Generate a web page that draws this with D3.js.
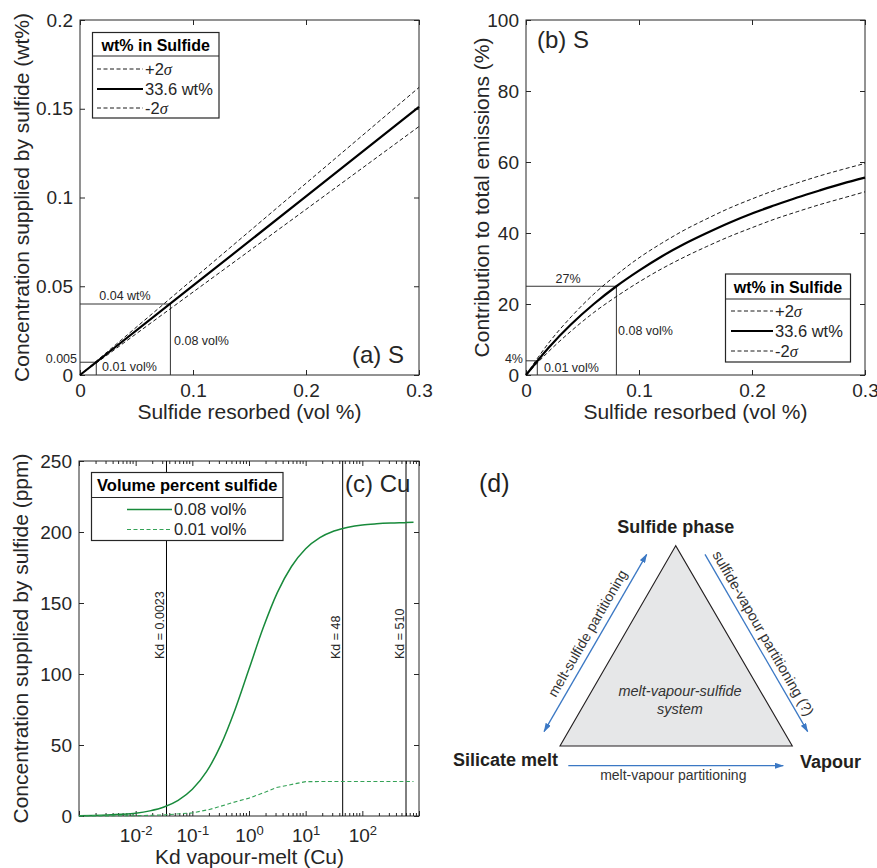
<!DOCTYPE html>
<html>
<head>
<meta charset="utf-8">
<script src="https://cdn.jsdelivr.net/npm/d3@7"></script>
<style>
  body { margin: 0; background: #fff; }
</style>
</head>
<body>
<svg id="fig" width="877" height="868"></svg>
<script>
// ---- data ----

// (a) S concentration supplied by sulfide (wt%) vs sulfide resorbed (vol %)
const volA = [0, 0.1, 0.2, 0.3];
const concMean = [0, 0.0503, 0.1006, 0.151];
const concPlus = [0, 0.054, 0.108, 0.162];
const concMinus = [0, 0.0467, 0.0933, 0.140];

// (b) S contribution to total emissions (%)
const volB = [0, 0.02, 0.04, 0.06, 0.08, 0.10, 0.12, 0.14, 0.16, 0.18, 0.20, 0.22, 0.24, 0.26, 0.28, 0.30];
const contribMean = [0, 7.7, 14.3, 20.0, 25.0, 29.4, 33.4, 36.9, 40.0, 42.9, 45.5, 47.8, 50.0, 52.0, 53.9, 55.6];
const contribPlus = [0, 9.0, 16.4, 22.8, 28.2, 33.0, 37.1, 40.8, 44.0, 47.0, 49.6, 52.0, 54.1, 56.1, 57.9, 59.6];
const contribMinus = [0, 6.6, 12.4, 17.6, 22.1, 26.2, 29.9, 33.2, 36.2, 39.0, 41.5, 43.9, 46.0, 48.0, 49.8, 51.6];

// (c) Cu supplied by sulfide (ppm) vs Kd vapour-melt
const kdSolid = [0.001, 0.00178, 0.00316, 0.00562, 0.01, 0.0178, 0.0316, 0.0562, 0.1, 0.178, 0.316, 0.562,
                 1, 1.78, 3.16, 5.62, 10, 17.8, 31.6, 56.2, 100, 178, 316, 562, 800];
const cu008 = [0.2, 0.4, 0.7, 1.2, 2.0, 3.6, 6.3, 11.0, 18.8, 31.2, 49.7, 74.5,
               103.5, 132.5, 157.3, 175.7, 188.2, 196.0, 200.7, 203.4, 205.0, 205.8, 206.3, 206.6, 206.8];
const kdDashed = [0.001, 0.01, 0.03, 0.1, 0.2, 0.3, 0.5, 1, 2, 3, 10, 30, 100, 800];
const cu001 = [0, 0.2, 0.7, 2.2, 4.6, 6.6, 9.3, 12.6, 17.0, 20.0, 24.2, 24.3, 24.3, 24.3];
const kdMarks = [0.035, 45, 590];
const kdMarkLabels = ["Kd = 0.0023", "Kd = 48", "Kd = 510"];

// reference guides drawn in (a) and (b)
const guideA = [[0.08, 0.04], [0.0144, 0.0072]];
const guideB = [[0.08, 25], [0.01, 4]];

const ticksA = [0, 0.1, 0.2, 0.3];
const ticksAy = [0, 0.05, 0.1, 0.15, 0.2];
const ticksBy = [0, 20, 40, 60, 80, 100];
const ticksCy = [0, 50, 100, 150, 200, 250];
const ticksCx = [1e-3, 1e-2, 1e-1, 1, 10, 100, 1000];

const FONT = '"Liberation Sans", Arial, Helvetica, sans-serif';
const INK = "#262626";
const GREEN = "#188a3b";
const GREEN_LIGHT = "#35a257";
const BLUE = "#3b78c4";

const svg = d3.select("#fig");

function frame(x, y, xTicks, yTicks, xFmt, yFmt, xPad) {
  const [x0, x1] = x.range(), [yb, yt] = y.range();
  const ax = (axis, tr) => svg.append("g").attr("transform", tr).call(axis)
    .call(s => s.select(".domain").remove())
    .attr("font-family", FONT).attr("font-size", 19).attr("color", INK);
  const b = ax(d3.axisBottom(x).tickValues(xTicks).tickFormat(xFmt).tickSizeInner(-5).tickSizeOuter(0).tickPadding(xPad || 9), `translate(0,${yb})`);
  ax(d3.axisTop(x).tickValues(xTicks).tickFormat("").tickSizeInner(-5).tickSizeOuter(0), `translate(0,${yt})`);
  ax(d3.axisLeft(y).tickValues(yTicks).tickFormat(yFmt).tickSizeInner(-5).tickSizeOuter(0).tickPadding(7), `translate(${x0},0)`);
  ax(d3.axisRight(y).tickValues(yTicks).tickFormat("").tickSizeInner(-5).tickSizeOuter(0), `translate(${x1},0)`);
  svg.append("rect").attr("x", x0).attr("y", yt).attr("width", x1 - x0).attr("height", yb - yt)
    .attr("fill", "none").attr("stroke", INK).attr("stroke-width", 1);
  return b;
}

function txt(x, y, s, size, opts = {}) {
  const t = svg.append("text").attr("x", x).attr("y", y).attr("font-family", FONT)
    .attr("font-size", size).attr("fill", opts.fill || INK).text(s);
  if (opts.anchor) t.attr("text-anchor", opts.anchor);
  if (opts.weight) t.attr("font-weight", opts.weight);
  if (opts.style) t.attr("font-style", opts.style);
  if (opts.rotate != null) t.attr("transform", `rotate(${opts.rotate},${x},${y})`);
  return t;
}

function sigmaLabel(t, sign) {
  t.text(null);
  t.append("tspan").text(sign + "2");
  t.append("tspan").attr("font-family", '"Liberation Serif", "Times New Roman", serif').attr("font-style", "italic").text("σ");
}

function legend(box, title, items) {
  svg.append("rect").attr("x", box.x).attr("y", box.y).attr("width", box.w).attr("height", box.h)
    .attr("fill", "#fff").attr("stroke", INK).attr("stroke-width", 1.2);
  svg.append("line").attr("x1", box.x).attr("x2", box.x + box.w).attr("y1", box.sep).attr("y2", box.sep)
    .attr("stroke", INK).attr("stroke-width", 1.2);
  txt(box.x + box.w / 2, box.titleY, title, box.titleSize, { anchor: "middle", weight: "bold", fill: "#000" });
  items.forEach(it => {
    svg.append("line").attr("x1", box.lx0).attr("x2", box.lx1).attr("y1", it.y).attr("y2", it.y)
      .attr("stroke", it.color).attr("stroke-width", it.width).attr("stroke-dasharray", it.dash);
    const t = txt(box.lx1 + 2, it.y + 5.5, it.label, box.itemSize);
    if (it.sigma) sigmaLabel(t, it.sigma);
  });
}

// ================= (a) =================
const xA = d3.scaleLinear().domain([0, 0.3]).range([80, 419]);
const yA = d3.scaleLinear().domain([0, 0.2]).range([375, 20]);
frame(xA, yA, ticksA, ticksAy, d3.format(""), d => d === 0 ? "0" : String(+d.toFixed(2)));

guideA.forEach(([gx, gy]) => {
  svg.append("path").attr("fill", "none").attr("stroke", "#333").attr("stroke-width", 1)
    .attr("d", `M${xA(0)},${yA(gy)}H${xA(gx)}V${yA(0)}`);
});
txt(125, 300, "0.04 wt%", 12.5, { anchor: "middle" });
txt(174, 345, "0.08 vol%", 12.5);
txt(77, 362.5, "0.005", 12.5, { anchor: "end" });
txt(102, 371, "0.01 vol%", 12.5);

const lineA = d3.line().x((d, i) => xA(volA[i])).y(d => yA(d));
[[concPlus, 0.9, "4,2.5"], [concMinus, 0.9, "4,2.5"], [concMean, 2.2, null]].forEach(([s, w, dash]) => {
  svg.append("path").attr("d", lineA(s)).attr("fill", "none").attr("stroke", "#000")
    .attr("stroke-width", w).attr("stroke-dasharray", dash);
});

legend({ x: 92.5, y: 32.5, w: 126.5, h: 85.5, sep: 56, titleY: 50.5, titleSize: 16, itemSize: 16.5, lx0: 97, lx1: 143 },
  "wt% in Sulfide", [
    { y: 69, sigma: "+", color: "#000", width: 0.9, dash: "4,2.5" },
    { y: 89, label: "33.6 wt%", color: "#000", width: 2.2, dash: null },
    { y: 108, sigma: "-", color: "#000", width: 0.9, dash: "4,2.5" }
  ]);
txt(404, 363, "(a) S", 24, { anchor: "end" });

txt(249.5, 419, "Sulfide resorbed (vol %)", 21, { anchor: "middle" });
txt(29, 197.5, "Concentration supplied by sulfide (wt%)", 21, { anchor: "middle", rotate: -90 });

// ================= (b) =================
const xB = d3.scaleLinear().domain([0, 0.3]).range([526, 865]);
const yB = d3.scaleLinear().domain([0, 100]).range([375, 20]);
frame(xB, yB, ticksA, ticksBy, d3.format(""), d3.format(""));

guideB.forEach(([gx, gy]) => {
  svg.append("path").attr("fill", "none").attr("stroke", "#333").attr("stroke-width", 1)
    .attr("d", `M${xB(0)},${yB(gy)}H${xB(gx)}V${yB(0)}`);
});
txt(568, 283, "27%", 12.5, { anchor: "middle" });
txt(618, 335, "0.08 vol%", 12.5);
txt(523, 362.5, "4%", 12.5, { anchor: "end" });
txt(544, 372, "0.01 vol%", 12.5);

const lineB = d3.line().x((d, i) => xB(volB[i])).y(d => yB(d)).curve(d3.curveMonotoneX);
[[contribPlus, 0.9, "4,2.5"], [contribMinus, 0.9, "4,2.5"], [contribMean, 2.2, null]].forEach(([s, w, dash]) => {
  svg.append("path").attr("d", lineB(s)).attr("fill", "none").attr("stroke", "#000")
    .attr("stroke-width", w).attr("stroke-dasharray", dash);
});

legend({ x: 725.5, y: 274, w: 125, h: 88, sep: 299, titleY: 293, titleSize: 16, itemSize: 16.5, lx0: 731, lx1: 773 },
  "wt% in Sulfide", [
    { y: 311, sigma: "+", color: "#000", width: 0.9, dash: "4,2.5" },
    { y: 331, label: "33.6 wt%", color: "#000", width: 2.2, dash: null },
    { y: 351, sigma: "-", color: "#000", width: 0.9, dash: "4,2.5" }
  ]);
txt(537, 48, "(b) S", 24);

txt(695.5, 419, "Sulfide resorbed (vol %)", 21, { anchor: "middle" });
txt(489, 197.5, "Contribution to total emissions (%)", 21, { anchor: "middle", rotate: -90 });

// ================= (c) =================
const xC = d3.scaleLog().domain([1e-3, 1e3]).range([79, 419]);
const yC = d3.scaleLinear().domain([0, 250]).range([816, 461]);
const bottomC = frame(xC, yC, ticksCx, ticksCy, () => "", d3.format(""), 13);

// superscript decade labels, only 10^-2 .. 10^2 are labelled
bottomC.selectAll(".tick text").each(function (d) {
  const e = Math.round(Math.log10(d));
  if (e < -2 || e > 2) return;
  const t = d3.select(this);
  t.append("tspan").text("10");
  t.append("tspan").attr("dy", "-7").attr("font-size", 13).text(String(e));
});

// minor log ticks, top and bottom
const minor = xC.ticks().filter(v => Math.abs(Math.log10(v) - Math.round(Math.log10(v))) > 1e-6);
svg.append("g").selectAll("line").data(minor).join("line")
  .attr("x1", d => xC(d)).attr("x2", d => xC(d)).attr("y1", 816).attr("y2", 813)
  .attr("stroke", INK);
svg.append("g").selectAll("line").data(minor).join("line")
  .attr("x1", d => xC(d)).attr("x2", d => xC(d)).attr("y1", 461).attr("y2", 464)
  .attr("stroke", INK);

// Kd reference lines
kdMarks.forEach((k, i) => {
  svg.append("line").attr("x1", xC(k)).attr("x2", xC(k)).attr("y1", 461).attr("y2", 816)
    .attr("stroke", "#000").attr("stroke-width", 1);
  txt(xC(k) - 2.5, 659, kdMarkLabels[i], 12.5, { rotate: -90 });
});

svg.append("path").attr("d", d3.line().curve(d3.curveMonotoneX)(kdSolid.map((k, i) => [xC(k), yC(cu008[i])])))
  .attr("fill", "none").attr("stroke", GREEN).attr("stroke-width", 1.5);
svg.append("path").attr("d", d3.line()(kdDashed.map((k, i) => [xC(k), yC(cu001[i])])))
  .attr("fill", "none").attr("stroke", GREEN_LIGHT).attr("stroke-width", 1.1).attr("stroke-dasharray", "4,2.5");

legend({ x: 91.5, y: 472.5, w: 191.5, h: 68, sep: 497.5, titleY: 491, titleSize: 16.5, itemSize: 16.5, lx0: 127, lx1: 172 },
  "Volume percent sulfide", [
    { y: 509.5, label: "0.08 vol%", color: GREEN, width: 1.5, dash: null },
    { y: 529.5, label: "0.01 vol%", color: GREEN_LIGHT, width: 1.1, dash: "4,2.5" }
  ]);
txt(345, 492, "(c) Cu", 24);

txt(249.5, 864, "Kd vapour-melt (Cu)", 21, { anchor: "middle" });
txt(28, 638.5, "Concentration supplied by sulfide (ppm)", 21, { anchor: "middle", rotate: -90 });

// ================= (d) schematic =================
const defs = svg.append("defs");
defs.append("marker").attr("id", "arr").attr("viewBox", "0 0 9 6").attr("refX", 8.5).attr("refY", 3)
  .attr("markerWidth", 9).attr("markerHeight", 6).attr("markerUnits", "userSpaceOnUse")
  .attr("orient", "auto-start-reverse")
  .append("path").attr("d", "M0,0L9,3L0,6Z").attr("fill", BLUE);

txt(479, 492, "(d)", 25, { fill: "#231f20" });

const tri = [[675.7, 545.7], [560, 746], [792.3, 746]];
svg.append("path").attr("d", d3.line()(tri) + "Z")
  .attr("fill", "#e6e7e8").attr("stroke", "#231f20").attr("stroke-width", 1.1);

txt(675.7, 532.5, "Sulfide phase", 18, { anchor: "middle", weight: "bold", fill: "#231f20" });
txt(453, 766, "Silicate melt", 18, { weight: "bold", fill: "#231f20" });
txt(800, 767.5, "Vapour", 18, { weight: "bold", fill: "#231f20" });

svg.append("line").attr("x1", 544).attr("y1", 731.7).attr("x2", 646.7).attr("y2", 554.3)
  .attr("stroke", BLUE).attr("stroke-width", 1.3)
  .attr("marker-start", "url(#arr)").attr("marker-end", "url(#arr)");
svg.append("line").attr("x1", 705).attr("y1", 554.3).attr("x2", 807.7).attr("y2", 731.7)
  .attr("stroke", BLUE).attr("stroke-width", 1.3).attr("marker-end", "url(#arr)");
svg.append("line").attr("x1", 568.3).attr("y1", 765.7).attr("x2", 783.3).attr("y2", 765.7)
  .attr("stroke", BLUE).attr("stroke-width", 1.3).attr("marker-end", "url(#arr)");

txt(673.3, 780, "melt-vapour partitioning", 14, { anchor: "middle", fill: "#333" });
txt(587.5, 633.3, "melt-sulfide partitioning", 14, { anchor: "middle", fill: "#333", rotate: -60 })
  .attr("dy", "0.35em");
txt(763.3, 633.3, "sulfide-vapour partitioning (?)", 14.5, { anchor: "middle", fill: "#333", rotate: 60 })
  .attr("dy", "0.35em");
txt(680, 696, "melt-vapour-sulfide", 14.5, { anchor: "middle", style: "italic", fill: "#333" });
txt(680, 714, "system", 14.5, { anchor: "middle", style: "italic", fill: "#333" });
</script>
</body>
</html>
